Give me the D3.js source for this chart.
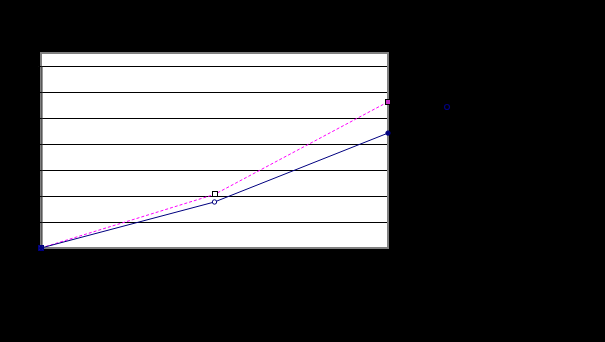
<!DOCTYPE html>
<html>
<head>
<meta charset="utf-8">
<script src="https://cdn.jsdelivr.net/npm/d3@7"></script>
<style>
  html, body { margin: 0; padding: 0; background: #000; }
  svg { display: block; }
</style>
</head>
<body>
<svg id="chart" width="605" height="342"></svg>
<script>
// ---- data ----
const categories = ["1", "2", "3"];
const seriesNames = ["Series 1", "Series 2"];
const seriesA = [0, 2.06, 5.62];   // magenta dashed, square markers
const seriesB = [0, 1.77, 4.42];   // navy solid, circle markers
const yTicks = [0, 1, 2, 3, 4, 5, 6, 7];

const svg = d3.select("#chart");
svg.append("rect").attr("width", 605).attr("height", 342).attr("fill", "#000");

const plot = { left: 41, right: 388, top: 53, bottom: 248 };

const x = d3.scalePoint().domain(categories).range([plot.left, plot.right]);
const y = d3.scaleLinear().domain([0, 7]).range([248, 66]);

// plot area
svg.append("rect")
  .attr("x", plot.left).attr("y", plot.top)
  .attr("width", plot.right - plot.left).attr("height", plot.bottom - plot.top)
  .attr("fill", "#fff").attr("stroke", "#808080").attr("stroke-width", 2);

// gridlines
svg.append("g").selectAll("line")
  .data(yTicks.filter(d => d > 0))
  .join("line")
  .attr("x1", plot.left - 2).attr("x2", plot.right - 1)
  .attr("y1", d => Math.round(y(d)) + 0.5).attr("y2", d => Math.round(y(d)) + 0.5)
  .attr("stroke", "#000").attr("stroke-width", 1);

// y axis (labels in black as in the original)
const yAxis = svg.append("g")
  .attr("transform", `translate(${plot.left + 0.5},0)`)
  .call(d3.axisLeft(y).tickValues(yTicks).tickSize(3).tickFormat(d3.format("d")));
yAxis.select(".domain").attr("stroke", "#333");
yAxis.selectAll("line").attr("stroke", "#000");
yAxis.selectAll("text").attr("fill", "#000").style("font", "10px Arial, 'Liberation Sans', sans-serif");

// x axis
const xAxis = svg.append("g")
  .attr("transform", `translate(0,${plot.bottom + 0.5})`)
  .call(d3.axisBottom(x).tickSize(0));
xAxis.select(".domain").remove();
xAxis.selectAll("text").attr("fill", "#000").attr("dy", "1.2em")
  .style("font", "10px Arial, 'Liberation Sans', sans-serif");

const line = d3.line().x((d, i) => x(categories[i])).y(d => y(d));

// series A (magenta dashed)
svg.append("path").datum(seriesA)
  .attr("d", line).attr("fill", "none")
  .attr("stroke", "#FF00FF").attr("stroke-width", 1).attr("stroke-dasharray", "3,2");

// series B (navy solid)
svg.append("path").datum(seriesB)
  .attr("d", line).attr("fill", "none")
  .attr("stroke", "#000080").attr("stroke-width", 1);

// markers A: squares
svg.append("g").selectAll("rect")
  .data(seriesA)
  .join("rect")
  .attr("x", (d, i) => Math.round(x(categories[i])) - 2.5)
  .attr("y", d => Math.round(y(d)) - 2.5)
  .attr("width", 5).attr("height", 5)
  .attr("fill", (d, i) => i === 2 ? "#CC33CC" : "#fff")
  .attr("stroke", (d, i) => i === 0 ? "#000080" : "#000").attr("stroke-width", 1);

// markers B: circles
svg.append("g").selectAll("circle")
  .data(seriesB)
  .join("circle")
  .attr("cx", (d, i) => x(categories[i]))
  .attr("cy", d => y(d))
  .attr("r", 2.2)
  .attr("fill", (d, i) => i === 1 ? "#fff" : "#000080")
  .attr("stroke", "#000080").attr("stroke-width", 1);

// legend (text black on black as in the original)
const legend = svg.append("g").attr("transform", "translate(447,107)");
legend.append("circle").attr("cx", 0).attr("cy", 0).attr("r", 2.5)
  .attr("fill", "#000").attr("stroke", "#000080").attr("stroke-width", 1.2);
legend.append("text").attr("x", 10).attr("y", 4).text(seriesNames[1])
  .attr("fill", "#000").style("font", "10px Arial, 'Liberation Sans', sans-serif");
legend.append("rect").attr("x", -2.5).attr("y", 20).attr("width", 5).attr("height", 5)
  .attr("fill", "#000").attr("stroke", "#000");
legend.append("text").attr("x", 10).attr("y", 26).text(seriesNames[0])
  .attr("fill", "#000").style("font", "10px Arial, 'Liberation Sans', sans-serif");
</script>
</body>
</html>
